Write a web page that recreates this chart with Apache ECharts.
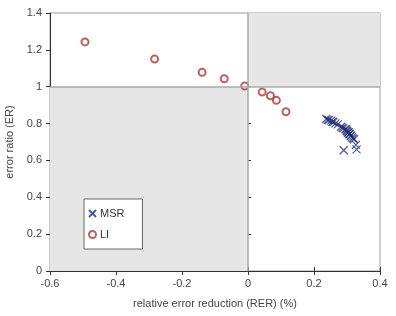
<!DOCTYPE html>
<html><head><meta charset="utf-8">
<script src="https://cdn.jsdelivr.net/npm/echarts@6/dist/echarts.min.js"></script>
<style>html,body{margin:0;padding:0;background:#fff}#c{width:396px;height:316px}</style>
</head><body><div id="c"></div>
<script>
const xTicks = [-0.6, -0.4, -0.2, 0, 0.2, 0.4];
const yTicks = [0, 0.2, 0.4, 0.6, 0.8, 1, 1.2, 1.4];
const liRER = [-0.494, -0.283, -0.139, -0.072, -0.010, 0.043, 0.068, 0.086, 0.115];
const liER  = [1.243, 1.150, 1.078, 1.043, 1.004, 0.971, 0.951, 0.926, 0.864];
const msrRER = [0.237, 0.242, 0.245, 0.252, 0.256, 0.259, 0.265, 0.272, 0.282, 0.286, 0.289, 0.295, 0.298, 0.299, 0.301, 0.303, 0.305, 0.307, 0.309, 0.311, 0.313, 0.315, 0.318, 0.321, 0.327, 0.329, 0.290];
const msrER  = [0.825, 0.820, 0.819, 0.816, 0.810, 0.808, 0.801, 0.796, 0.783, 0.778, 0.774, 0.769, 0.770, 0.761, 0.758, 0.750, 0.753, 0.742, 0.745, 0.733, 0.735, 0.725, 0.720, 0.715, 0.684, 0.660, 0.655];

const zip = (a, b) => a.map((v, i) => [v, b[i]]);
const crossPath = 'path://M0,0L10,10M10,0L0,10';
const chart = echarts.init(document.getElementById('c'), null, {renderer: 'canvas'});
const lblStyle = {color: '#444', fontSize: 11, fontFamily: 'Liberation Sans, Arial, sans-serif'};
chart.setOption({
  animation: false,
  grid: {left: 50, right: 16, top: 13, bottom: 45, show: true, borderColor: '#999', borderWidth: 1,
         containLabel: false, outerBoundsMode: 'none'},
  xAxis: [{
    type: 'value', min: xTicks[0], max: xTicks[xTicks.length - 1], interval: 0.2,
    position: 'bottom',
    axisLine: {show: true, onZero: false, lineStyle: {color: '#333', width: 1}},
    axisTick: {show: true, length: 4, lineStyle: {color: '#333'}},
    axisLabel: Object.assign({margin: 7}, lblStyle),
    splitLine: {show: false},
    name: 'relative error reduction (RER) (%)', nameLocation: 'middle', nameGap: 27,
    nameTextStyle: lblStyle
  }, {
    type: 'value', min: xTicks[0], max: xTicks[xTicks.length - 1], interval: 0.2,
    position: 'bottom', offset: 0,
    axisLine: {show: false},
    axisTick: {show: true, inside: true, length: 4, lineStyle: {color: '#333'}},
    axisLabel: {show: false}, splitLine: {show: false}
  }],
  yAxis: [{
    type: 'value', min: yTicks[0], max: yTicks[yTicks.length - 1], interval: 0.2,
    axisLine: {show: true, onZero: false, lineStyle: {color: '#333', width: 1}},
    axisTick: {show: true, length: 4, lineStyle: {color: '#333'}},
    axisLabel: Object.assign({margin: 8}, lblStyle),
    splitLine: {show: false},
    name: 'error ratio (ER)', nameLocation: 'middle', nameGap: 35,
    nameTextStyle: lblStyle
  }, {
    type: 'value', min: yTicks[0], max: yTicks[yTicks.length - 1], interval: 0.2,
    position: 'left', offset: 0,
    axisLine: {show: false},
    axisTick: {show: true, inside: true, length: 3, lineStyle: {color: '#333'}},
    axisLabel: {show: false}, splitLine: {show: false}
  }],
  legend: {
    orient: 'vertical', left: 84, top: 199, itemGap: 10, itemWidth: 7, itemHeight: 7,
    padding: [9, 18, 9, 4],
    backgroundColor: '#fff', borderColor: '#666', borderWidth: 1, borderRadius: 0,
    textStyle: {color: '#333', fontSize: 11, fontFamily: 'Liberation Sans, Arial, sans-serif', padding: [0, 0, 0, -1]},
    data: ['MSR', 'LI']
  },
  series: [{
    name: 'bg', type: 'scatter', data: [], silent: true,
    markArea: {
      silent: true,
      itemStyle: {color: '#e6e6e6'},
      data: [
        [{coord: [xTicks[0], yTicks[0]]}, {coord: [0, 1]}],
        [{coord: [0, 1]}, {coord: [xTicks[xTicks.length - 1], yTicks[yTicks.length - 1]]}]
      ]
    },
    markLine: {
      silent: true, symbol: 'none', label: {show: false},
      lineStyle: {color: '#aaa', width: 1.5, type: 'solid'},
      data: [{xAxis: 0}, {yAxis: 1}]
    }
  }, {
    name: 'MSR', type: 'scatter', data: zip(msrRER, msrER),
    symbol: crossPath, symbolSize: 8,
    itemStyle: {color: '#1f2d78', borderColor: '#1f2d78', borderWidth: 1.2}
  }, {
    name: 'LI', type: 'scatter', data: zip(liRER, liER),
    symbol: 'emptyCircle', symbolSize: 7,
    itemStyle: {color: '#b03535', borderColor: '#b03535', borderWidth: 1}
  }]
});
</script></body></html>
